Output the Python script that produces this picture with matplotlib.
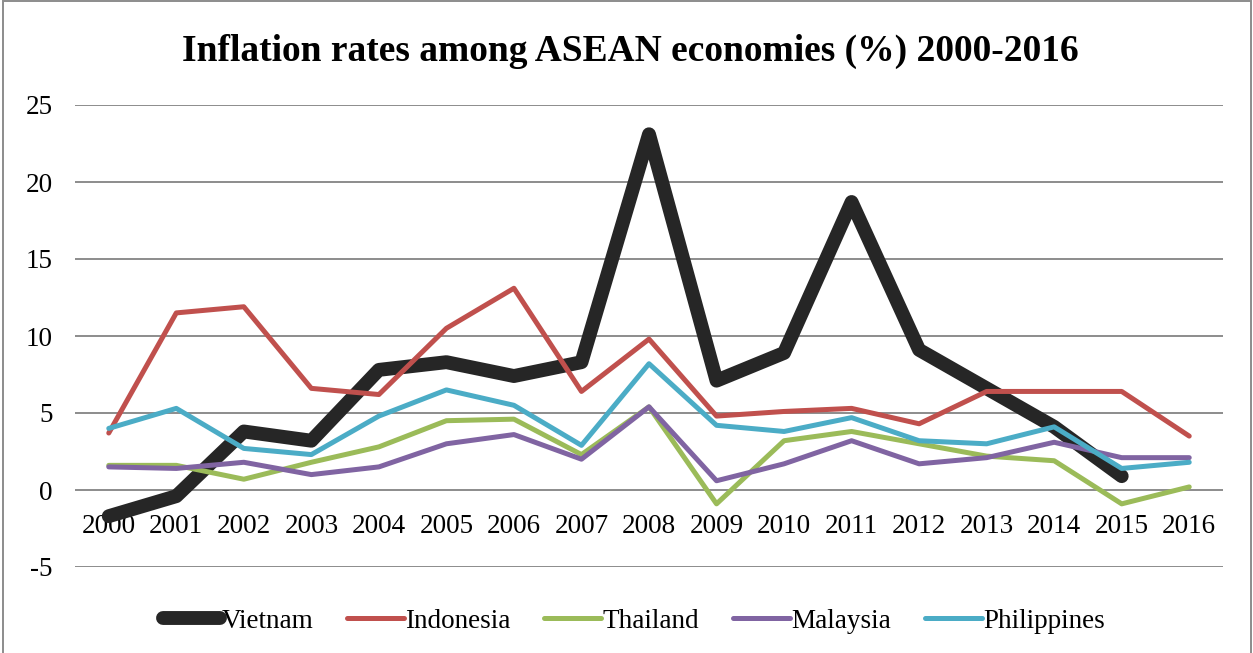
import matplotlib
matplotlib.use('Agg')
import matplotlib.pyplot as plt
from matplotlib.patches import Rectangle

# Annual CPI inflation, percent
YEARS = [str(y) for y in range(2000, 2017)]
VIETNAM = [-1.7, -0.4, 3.8, 3.2, 7.8, 8.3, 7.4, 8.3, 23.1, 7.1, 8.9, 18.7, 9.1, 6.6, 4.1, 0.9, None]
INDONESIA = [3.7, 11.5, 11.9, 6.6, 6.2, 10.5, 13.1, 6.4, 9.8, 4.8, 5.1, 5.3, 4.3, 6.4, 6.4, 6.4, 3.5]
THAILAND = [1.6, 1.6, 0.7, 1.8, 2.8, 4.5, 4.6, 2.3, 5.4, -0.9, 3.2, 3.8, 3.0, 2.2, 1.9, -0.9, 0.2]
MALAYSIA = [1.5, 1.4, 1.8, 1.0, 1.5, 3.0, 3.6, 2.0, 5.4, 0.6, 1.7, 3.2, 1.7, 2.1, 3.1, 2.1, 2.1]
PHILIPPINES = [4.0, 5.3, 2.7, 2.3, 4.8, 6.5, 5.5, 2.9, 8.2, 4.2, 3.8, 4.7, 3.2, 3.0, 4.1, 1.4, 1.8]

SERIES = [
    ('Vietnam', VIETNAM, '#262626', 10),
    ('Indonesia', INDONESIA, '#C0504D', 3.6),
    ('Thailand', THAILAND, '#9BBB59', 3.6),
    ('Malaysia', MALAYSIA, '#8064A2', 3.6),
    ('Philippines', PHILIPPINES, '#4BACC6', 3.6),
]

plt.rcParams['font.family'] = ['Liberation Serif', 'DejaVu Serif']
plt.rcParams['axes.unicode_minus'] = False

fig = plt.figure(figsize=(12.53, 6.53), dpi=100)
ax = fig.add_axes([75 / 1253, 1 - 567 / 653, 1148 / 1253, 462 / 653])

x = list(range(len(YEARS)))
for name, values, color, lw in SERIES:
    ys = [float('nan') if v is None else v for v in values]
    ax.plot(x, ys, color=color, lw=lw, label=name, solid_joinstyle='round',
            solid_capstyle='round', zorder=3)

ax.set_xlim(-0.5, len(YEARS) - 0.5)
ax.set_ylim(-5, 25)
ax.set_yticks(range(-5, 26, 5))
ax.set_xticks(x)
ax.set_xticklabels(YEARS)
ax.yaxis.grid(True, color='#8c8c8c', lw=1.4)
ax.set_axisbelow(True)

# category labels sit on the zero line
ax.spines['bottom'].set_position(('data', 0))
for side in ['top', 'right', 'left', 'bottom']:
    ax.spines[side].set_color('none')
ax.tick_params(axis='x', length=0, pad=17, labelsize=19.5)
ax.tick_params(axis='y', length=0, pad=16, labelsize=19.5)

fig.text(0.503, 1 - 51 / 653, 'Inflation rates among ASEAN economies (%) 2000-2016',
         ha='center', va='center', fontsize=27, fontweight='bold')

leg = fig.legend(loc='center', bbox_to_anchor=(0.506, 1 - 621 / 653), ncol=5,
                 frameon=False, fontsize=19.5, handlelength=2.1, handletextpad=0.05,
                 columnspacing=1.25)
for line in leg.get_lines():
    line.set_solid_capstyle('round')

# chart frame
fig.patches.append(Rectangle((3 / 1253, -0.01), 1248 / 1253, 1.0 - 1 / 653 + 0.01,
                             transform=fig.transFigure, fill=False,
                             edgecolor='#8c8c8c', lw=1.4))

fig.savefig('out.png', dpi=100)
